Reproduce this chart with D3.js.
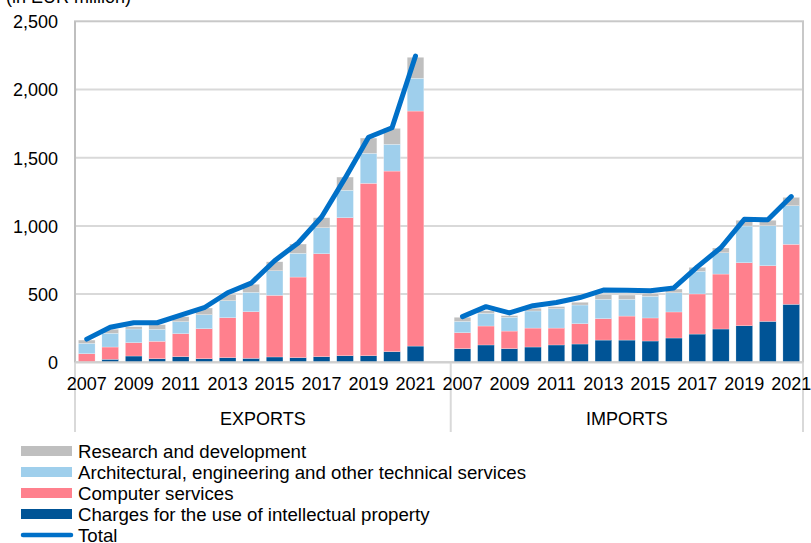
<!DOCTYPE html>
<html>
<head>
<meta charset="utf-8">
<script src="https://cdn.jsdelivr.net/npm/d3@7"></script>
<style>
  html, body { margin: 0; padding: 0; background: #fff; }
  svg text { font-family: "Liberation Sans", Arial, sans-serif; fill: #000; }
</style>
</head>
<body>
<svg id="chart" width="811" height="543"></svg>
<script>
// Years shown in each panel
const years = [2007, 2008, 2009, 2010, 2011, 2012, 2013, 2014, 2015, 2016, 2017, 2018, 2019, 2020, 2021];
const groups = ["EXPORTS", "IMPORTS"];

// EUR million, by component
const exportsIP   = [3, 22, 46, 26, 41, 26, 34, 29, 39, 34, 41, 48, 48, 78, 119];
const exportsCS   = [60, 90, 98, 128, 169, 220, 293, 342, 452, 591, 755, 1012, 1264, 1324, 1723];
const exportsArch = [76, 101, 100, 88, 88, 103, 125, 142, 180, 174, 191, 201, 220, 196, 240];
const exportsRD   = [24, 29, 17, 34, 36, 49, 46, 59, 66, 68, 73, 97, 112, 117, 154];
const exportsTotal = [170, 257, 290, 290, 345, 400, 510, 580, 745, 875, 1065, 1350, 1650, 1720, 2245];

const importsIP   = [100, 127, 100, 112, 127, 134, 163, 163, 156, 178, 207, 244, 268, 300, 425];
const importsCS   = [117, 139, 129, 139, 124, 149, 157, 176, 169, 191, 294, 403, 462, 408, 440];
const importsArch = [83, 93, 101, 125, 142, 137, 142, 123, 159, 141, 166, 156, 269, 293, 283];
const importsRD   = [30, 19, 12, 20, 15, 20, 36, 31, 19, 27, 29, 35, 42, 40, 61];
const importsTotal = [335, 408, 362, 415, 438, 475, 530, 528, 525, 545, 700, 840, 1048, 1045, 1215];

const yTicks = [0, 500, 1000, 1500, 2000, 2500];
const seriesNames = [
  "Charges for the use of intellectual property",
  "Computer services",
  "Architectural, engineering and other technical services",
  "Research and development"
];
const seriesKeys = ["ip", "cs", "arch", "rd"];
const colors = { ip: "#005496", cs: "#ff808d", arch: "#9fcfec", rd: "#bfbfbf" };
const lineColor = "#0070c8";

// Build rows: one slot per year per group, with an empty slot after EXPORTS
function rows(group, ip, cs, arch, rd, total) {
  return years.map((yr, i) => ({
    key: group + "|" + yr, group, year: yr,
    ip: ip[i], cs: cs[i], arch: arch[i], rd: rd[i], total: total[i]
  }));
}
const expRows = rows("EXPORTS", exportsIP, exportsCS, exportsArch, exportsRD, exportsTotal);
const impRows = rows("IMPORTS", importsIP, importsCS, importsArch, importsRD, importsTotal);
const slots = [...expRows.map(d => d.key), "EXPORTS|gap", ...impRows.map(d => d.key)];
const allRows = [...expRows, ...impRows];

const plotLeft = 75, plotRight = 803, plotTop = 21.3, plotBottom = 362.3;
const svg = d3.select("#chart");

const x = d3.scaleBand().domain(slots).range([plotLeft, plotRight]).paddingInner(0.29).paddingOuter(0.145);
const y = d3.scaleLinear().domain([0, 2500]).range([plotBottom, plotTop]);

// gridlines
svg.append("g").selectAll("line").data(yTicks.filter(t => t > 0 && t < 2500)).join("line")
  .attr("x1", plotLeft).attr("x2", plotRight)
  .attr("y1", d => y(d)).attr("y2", d => y(d))
  .attr("stroke", "#d9d9d9").attr("stroke-width", 2);

// plot frame
svg.append("rect")
  .attr("x", plotLeft).attr("y", y(2500)).attr("width", plotRight - plotLeft).attr("height", plotBottom - y(2500))
  .attr("fill", "none").attr("stroke", "#c8c8c8").attr("stroke-width", 2);

// group separators under the axis
const groupBoundary = plotLeft + x.step() * 16;
svg.append("g").selectAll("line").data([plotLeft, groupBoundary, plotRight]).join("line")
  .attr("x1", d => d).attr("x2", d => d)
  .attr("y1", plotBottom).attr("y2", 432)
  .attr("stroke", "#d9d9d9").attr("stroke-width", 2);

// stacked bars
const stacked = d3.stack().keys(seriesKeys)(allRows);
svg.append("g").selectAll("g").data(stacked).join("g")
  .attr("fill", d => colors[d.key])
  .selectAll("rect").data(d => d).join("rect")
  .attr("x", d => x(d.data.key))
  .attr("width", x.bandwidth())
  .attr("y", d => y(d[1]))
  .attr("height", d => y(d[0]) - y(d[1]))
  .attr("stroke", "#ffffff").attr("stroke-width", 0.4).attr("stroke-opacity", 0.6);

// axis lines
svg.append("line").attr("x1", plotLeft).attr("x2", plotLeft).attr("y1", y(2500)).attr("y2", plotBottom)
  .attr("stroke", "#bfbfbf").attr("stroke-width", 2);
svg.append("line").attr("x1", plotLeft).attr("x2", plotRight).attr("y1", plotBottom).attr("y2", plotBottom)
  .attr("stroke", "#d0d0d0").attr("stroke-width", 2);

// total lines, one per group
const line = d3.line().x(d => x(d.key) + x.bandwidth() / 2).y(d => y(d.total));
svg.append("g").selectAll("path").data([expRows, impRows]).join("path")
  .attr("d", line)
  .attr("fill", "none").attr("stroke", lineColor).attr("stroke-width", 5)
  .attr("stroke-linejoin", "round").attr("stroke-linecap", "round");

// y axis labels
const yAxis = d3.axisLeft(y).tickValues(yTicks).tickFormat(d3.format(",")).tickSize(0).tickPadding(0);
const gy = svg.append("g").attr("transform", `translate(${plotLeft - 17},0)`).call(yAxis);
gy.select(".domain").remove();
gy.selectAll("text").attr("font-size", 18).attr("font-family", '"Liberation Sans", Arial, sans-serif')
  .attr("fill", "#000").attr("dy", "0.35em");

// x axis year labels (every other year)
const labelled = allRows.filter(d => (d.year - 2007) % 2 === 0);
svg.append("g").selectAll("text").data(labelled).join("text")
  .attr("x", d => x(d.key) + x.bandwidth() / 2)
  .attr("y", 390)
  .attr("text-anchor", "middle").attr("font-size", 18)
  .text(d => d.year);

// group labels
const groupCenters = [(plotLeft + groupBoundary) / 2, (groupBoundary + plotRight) / 2];
svg.append("g").selectAll("text").data(groups).join("text")
  .attr("x", (d, i) => groupCenters[i]).attr("y", 425)
  .attr("text-anchor", "middle").attr("font-size", 18)
  .text(d => d);

// unit label
svg.append("text").attr("x", 6).attr("y", 2.5).attr("font-size", 18).text("(in EUR million)");

// legend
const legendItems = [
  { name: seriesNames[3], color: colors.rd, type: "rect" },
  { name: seriesNames[2], color: colors.arch, type: "rect" },
  { name: seriesNames[1], color: colors.cs, type: "rect" },
  { name: seriesNames[0], color: colors.ip, type: "rect" },
  { name: "Total", color: lineColor, type: "line" }
];
const lg = svg.append("g").selectAll("g").data(legendItems).join("g")
  .attr("transform", (d, i) => `translate(0, ${451 + i * 21})`);
lg.filter(d => d.type === "rect").append("rect")
  .attr("x", 21).attr("y", -5).attr("width", 51).attr("height", 10).attr("fill", d => d.color);
lg.filter(d => d.type === "line").append("line")
  .attr("x1", 23).attr("x2", 71).attr("y1", 0).attr("y2", 0)
  .attr("stroke", d => d.color).attr("stroke-width", 4.5).attr("stroke-linecap", "round");
lg.append("text").attr("x", 78).attr("y", 6.5).attr("font-size", 18.67).text(d => d.name);
</script>
</body>
</html>
